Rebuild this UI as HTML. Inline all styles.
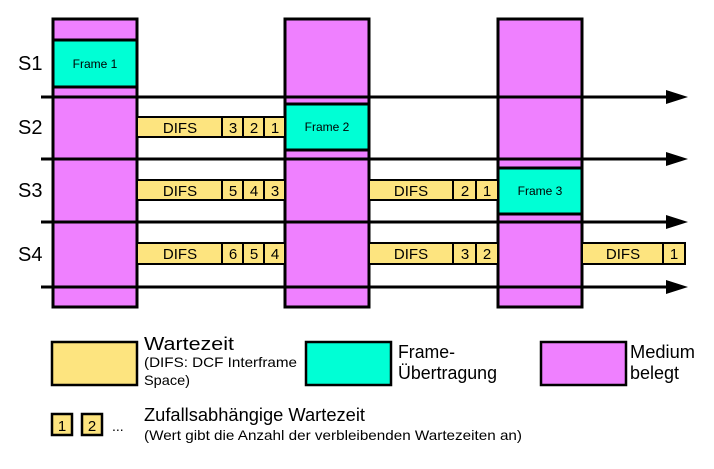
<!DOCTYPE html>
<html><head><meta charset="utf-8"><style>
body{margin:0;background:#fff;}
svg text{font-family:"Liberation Sans",sans-serif;fill:#000;}
</style></head><body>
<svg width="714" height="464" viewBox="0 0 714 464" xmlns="http://www.w3.org/2000/svg">
<g stroke="#000" stroke-width="3">
<rect x="53" y="19" width="84" height="288" fill="#ef80ff"/>
<rect x="285" y="19" width="84" height="288" fill="#ef80ff"/>
<rect x="498" y="19" width="84" height="288" fill="#ef80ff"/>
<rect x="53" y="40" width="84" height="47" fill="#00ffd5"/>
<rect x="285" y="104" width="84" height="46" fill="#00ffd5"/>
<rect x="498" y="168" width="84" height="46" fill="#00ffd5"/>
</g>
<g stroke="#000" stroke-width="2" fill="#fde47f">
<rect x="137" y="117" width="85" height="20"/><rect x="222" y="117" width="21" height="20"/><rect x="243" y="117" width="21" height="20"/><rect x="264" y="117" width="21" height="20"/>
<rect x="137" y="180" width="85" height="20"/><rect x="222" y="180" width="21" height="20"/><rect x="243" y="180" width="21" height="20"/><rect x="264" y="180" width="21" height="20"/>
<rect x="369" y="180" width="84" height="20"/><rect x="453" y="180" width="23" height="20"/><rect x="476" y="180" width="22" height="20"/>
<rect x="137" y="243" width="85" height="21"/><rect x="222" y="243" width="21" height="21"/><rect x="243" y="243" width="21" height="21"/><rect x="264" y="243" width="21" height="21"/>
<rect x="369" y="243" width="84" height="21"/><rect x="453" y="243" width="23" height="21"/><rect x="476" y="243" width="22" height="21"/>
<rect x="582" y="243" width="81" height="21"/><rect x="663" y="243" width="22" height="21"/>
</g>
<g stroke="#000" stroke-width="3">
<line x1="41" y1="97" x2="670" y2="97"/><line x1="41" y1="159" x2="670" y2="159"/>
<line x1="41" y1="222" x2="670" y2="222"/><line x1="41" y1="287" x2="670" y2="287"/>
</g>
<g fill="#000">
<polygon points="666,90 688,97 666,104"/><polygon points="666,152 688,159 666,166"/>
<polygon points="666,215 688,222 666,229"/><polygon points="666,280 688,287 666,294"/>
</g>
<g font-size="20">
<text x="18" y="70">S1</text><text x="18" y="134">S2</text><text x="18" y="197">S3</text><text x="18" y="261">S4</text>
</g>
<g font-size="12" text-anchor="middle">
<text x="95" y="68">Frame 1</text><text x="327" y="131">Frame 2</text><text x="540" y="195">Frame 3</text>
</g>
<g font-size="15" text-anchor="middle">
<text x="180" y="133">DIFS</text><text x="233" y="133">3</text><text x="254" y="133">2</text><text x="275" y="133">1</text>
<text x="180" y="196">DIFS</text><text x="233" y="196">5</text><text x="254" y="196">4</text><text x="275" y="196">3</text>
<text x="411" y="196">DIFS</text><text x="465" y="196">2</text><text x="487" y="196">1</text>
<text x="180" y="259">DIFS</text><text x="233" y="259">6</text><text x="254" y="259">5</text><text x="275" y="259">4</text>
<text x="411" y="259">DIFS</text><text x="465" y="259">3</text><text x="487" y="259">2</text>
<text x="623" y="259">DIFS</text><text x="674" y="259">1</text>
</g>
<g stroke="#000" stroke-width="2.5">
<rect x="52" y="342" width="85" height="43" fill="#fde47f"/>
<rect x="306" y="342" width="85" height="43" fill="#00ffd5"/>
<rect x="541" y="342" width="85" height="43" fill="#ef80ff"/>
<rect x="52" y="414" width="20" height="21" fill="#fde47f"/>
<rect x="82" y="414" width="20" height="21" fill="#fde47f"/>
</g>
<g font-size="15" text-anchor="middle"><text x="62" y="431">1</text><text x="92" y="431">2</text></g>
<text x="112" y="431" font-size="14">...</text>
<text x="144" y="350" font-size="18" textLength="90" lengthAdjust="spacingAndGlyphs">Wartezeit</text>
<text x="144" y="367" font-size="14" textLength="153" lengthAdjust="spacingAndGlyphs">(DIFS: DCF Interframe</text>
<text x="144" y="385" font-size="14" textLength="46" lengthAdjust="spacingAndGlyphs">Space)</text>
<text x="398" y="358" font-size="18" textLength="57" lengthAdjust="spacingAndGlyphs">Frame-</text>
<text x="398" y="379" font-size="18" textLength="99" lengthAdjust="spacingAndGlyphs">Übertragung</text>
<text x="630" y="358" font-size="18" textLength="65" lengthAdjust="spacingAndGlyphs">Medium</text>
<text x="630" y="379" font-size="18" textLength="49" lengthAdjust="spacingAndGlyphs">belegt</text>
<text x="144" y="421" font-size="18" textLength="221" lengthAdjust="spacingAndGlyphs">Zufallsabhängige Wartezeit</text>
<text x="144" y="440" font-size="14" textLength="378" lengthAdjust="spacingAndGlyphs">(Wert gibt die Anzahl der verbleibenden Wartezeiten an)</text>
</svg>
</body></html>
